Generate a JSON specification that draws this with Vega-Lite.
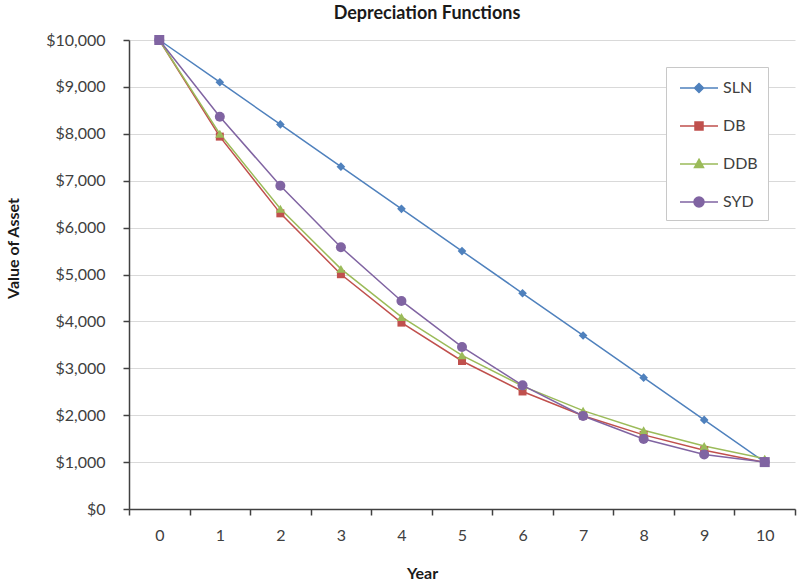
{
  "$schema": "https://vega.github.io/schema/vega-lite/v6.json",
  "width": 666,
  "height": 469,
  "autosize": {"type": "none"},
  "padding": {"left": 129, "top": 40, "right": 5, "bottom": 74},
  "background": "white",
  "title": {
    "text": "Depreciation Functions",
    "font": "Lato",
    "fontSize": 18,
    "fontWeight": "bold",
    "color": "#1a1a1a",
    "anchor": "middle",
    "baseline": "middle",
    "offset": 0,
    "dx": -35
  },
  "config": {
    "view": {"stroke": null},
    "axis": {"labelFont": "Lato", "titleFont": "Lato"}
  },
  "data": {
    "values": [
      {"year": 0, "series": "SLN", "value": 10000},
      {"year": 1, "series": "SLN", "value": 9100},
      {"year": 2, "series": "SLN", "value": 8200},
      {"year": 3, "series": "SLN", "value": 7300},
      {"year": 4, "series": "SLN", "value": 6400},
      {"year": 5, "series": "SLN", "value": 5500},
      {"year": 6, "series": "SLN", "value": 4600},
      {"year": 7, "series": "SLN", "value": 3700},
      {"year": 8, "series": "SLN", "value": 2800},
      {"year": 9, "series": "SLN", "value": 1900},
      {"year": 10, "series": "SLN", "value": 1000},
      {"year": 0, "series": "DB", "value": 10000},
      {"year": 1, "series": "DB", "value": 7940},
      {"year": 2, "series": "DB", "value": 6304},
      {"year": 3, "series": "DB", "value": 5006},
      {"year": 4, "series": "DB", "value": 3974},
      {"year": 5, "series": "DB", "value": 3156},
      {"year": 6, "series": "DB", "value": 2506},
      {"year": 7, "series": "DB", "value": 1990},
      {"year": 8, "series": "DB", "value": 1580},
      {"year": 9, "series": "DB", "value": 1254},
      {"year": 10, "series": "DB", "value": 996},
      {"year": 0, "series": "DDB", "value": 10000},
      {"year": 1, "series": "DDB", "value": 8000},
      {"year": 2, "series": "DDB", "value": 6400},
      {"year": 3, "series": "DDB", "value": 5120},
      {"year": 4, "series": "DDB", "value": 4096},
      {"year": 5, "series": "DDB", "value": 3277},
      {"year": 6, "series": "DDB", "value": 2621},
      {"year": 7, "series": "DDB", "value": 2097},
      {"year": 8, "series": "DDB", "value": 1678},
      {"year": 9, "series": "DDB", "value": 1342},
      {"year": 10, "series": "DDB", "value": 1074},
      {"year": 0, "series": "SYD", "value": 10000},
      {"year": 1, "series": "SYD", "value": 8364},
      {"year": 2, "series": "SYD", "value": 6891},
      {"year": 3, "series": "SYD", "value": 5582},
      {"year": 4, "series": "SYD", "value": 4436},
      {"year": 5, "series": "SYD", "value": 3455},
      {"year": 6, "series": "SYD", "value": 2636},
      {"year": 7, "series": "SYD", "value": 1982},
      {"year": 8, "series": "SYD", "value": 1491},
      {"year": 9, "series": "SYD", "value": 1164},
      {"year": 10, "series": "SYD", "value": 1000}
    ]
  },
  "encoding": {
    "x": {
      "field": "year",
      "type": "ordinal",
      "bandPosition": 0.5,
      "scale": {"type": "band", "domain": [0,1,2,3,4,5,6,7,8,9,10], "paddingInner": 0, "paddingOuter": 0},
      "axis": {
        "title": "Year",
        "titleFontSize": 16,
        "titleFontWeight": "bold",
        "titleColor": "#1a1a1a",
        "titleBaseline": "middle",
        "titleX": 293,
        "titleY": 64,
        "labelAngle": 0,
        "labelFontSize": 16,
        "labelColor": "#404040",
        "labelPadding": 12,
        "tickBand": "extent",
        "tickSize": 6,
        "tickColor": "#404040",
        "tickWidth": 1.5,
        "domainColor": "#404040",
        "domainWidth": 1.5,
        "grid": false
      }
    },
    "y": {
      "field": "value",
      "type": "quantitative",
      "scale": {"domain": [0, 10000], "nice": false},
      "axis": {
        "title": "Value of Asset",
        "titleFontSize": 16,
        "titleFontWeight": "bold",
        "titleColor": "#1a1a1a",
        "titleBaseline": "middle",
        "titleX": -116,
        "titleY": 208,
        "values": [0,1000,2000,3000,4000,5000,6000,7000,8000,9000,10000],
        "format": "$,.0f",
        "labelFontSize": 16,
        "labelColor": "#404040",
        "labelPadding": 18,
        "tickSize": 6,
        "tickColor": "#404040",
        "tickWidth": 1.5,
        "domainColor": "#404040",
        "domainWidth": 1.5,
        "gridColor": "#d9d9d9",
        "gridWidth": 1
      }
    },
    "color": {
      "field": "series",
      "type": "nominal",
      "scale": {"domain": ["SLN", "DB", "DDB", "SYD"], "range": ["#4F81BD", "#C0504D", "#9BBB59", "#8064A2"]},
      "legend": {
        "title": null,
        "orient": "none",
        "legendX": 537,
        "legendY": 27,
        "padding": 10,
        "fillColor": "white",
        "strokeColor": "#c8c8c8",
        "labelFont": "Lato",
        "labelFontSize": 16,
        "labelColor": "#404040",
        "labelOffset": 25,
        "rowPadding": 19,
        "symbolSize": 400,
        "symbolStrokeWidth": 1.5,
        "encode": {
          "symbols": {
            "update": {
              "shape": {"signal": "datum.value === 'SLN' ? 'M-0.7,0L3.1,0M1.2,-0.45L1.65,0L1.2,0.45L0.75,0Z' : datum.value === 'DB' ? 'M-0.7,0L3.1,0M0.8,-0.4L1.6,-0.4L1.6,0.4L0.8,0.4Z' : datum.value === 'DDB' ? 'M-0.7,0L3.1,0M1.2,-0.48L1.65,0.35L0.75,0.35Z' : 'M-0.7,0L3.1,0M1.7,0A0.5,0.5,0,1,1,0.7,0A0.5,0.5,0,1,1,1.7,0Z'"},
              "fill": {"signal": "scale('color', datum.value)"},
              "stroke": {"signal": "scale('color', datum.value)"},
              "strokeWidth": {"value": 1.5},
              "opacity": {"value": 1},
              "fillOpacity": {"value": 1},
              "strokeOpacity": {"value": 1}
            }
          }
        }
      }
    }
  },
  "layer": [
    {
      "mark": {"type": "line", "strokeWidth": 1.5}
    },
    {
      "transform": [{"filter": {"field": "series", "equal": "SLN"}}],
      "mark": {"type": "point", "filled": true, "opacity": 1, "shape": "diamond", "size": 75}
    },
    {
      "transform": [{"filter": {"field": "series", "equal": "DB"}}],
      "mark": {"type": "point", "filled": true, "opacity": 1, "shape": "square", "size": 64}
    },
    {
      "transform": [{"filter": {"field": "series", "equal": "DDB"}}],
      "mark": {"type": "point", "filled": true, "opacity": 1, "shape": "triangle-up", "size": 85}
    },
    {
      "transform": [{"filter": {"field": "series", "equal": "SYD"}}],
      "mark": {"type": "point", "filled": true, "opacity": 1, "shape": "circle", "size": 100}
    },
    {
      "transform": [
        {"filter": {"field": "series", "equal": "SYD"}},
        {"filter": {"field": "year", "oneOf": [0, 10]}}
      ],
      "mark": {"type": "square", "filled": true, "opacity": 1, "size": 100}
    }
  ]
}
